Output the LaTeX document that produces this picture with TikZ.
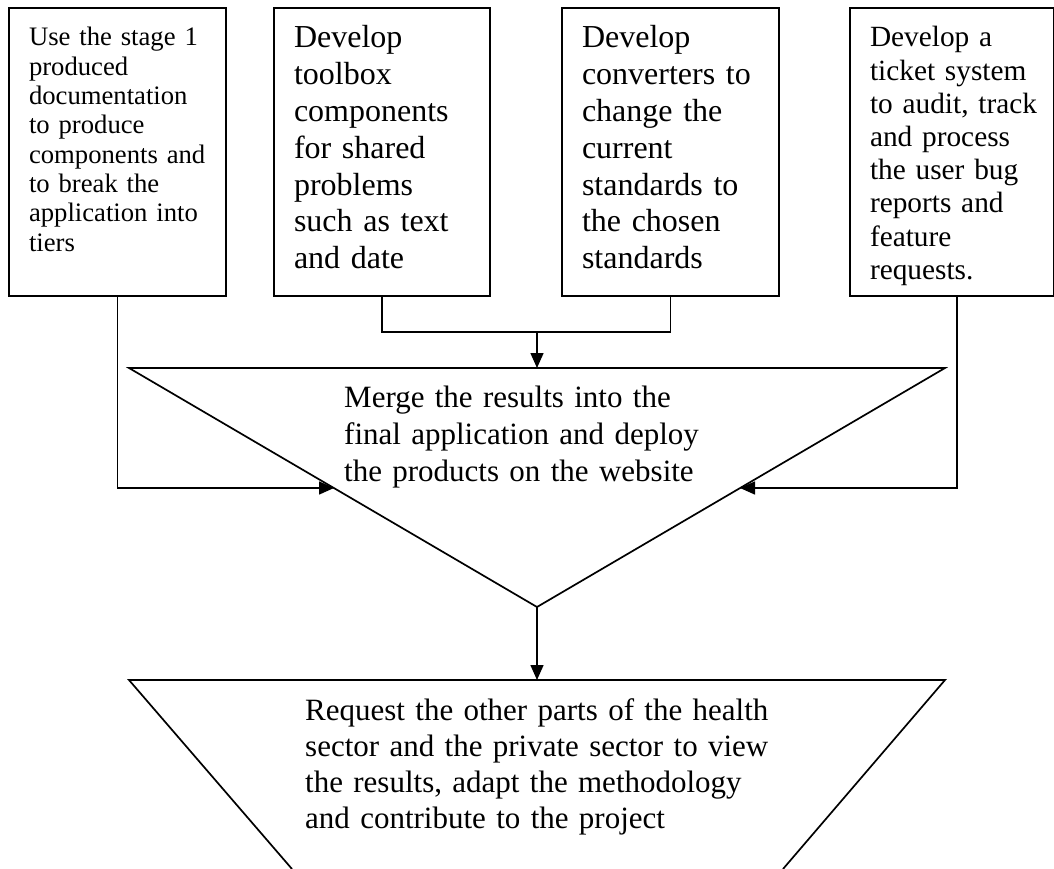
\documentclass[tikz,border=0pt]{standalone}
\usepackage{fontspec}
\setmainfont{Liberation Serif}
\usetikzlibrary{arrows.meta}
\begin{document}
\begin{tikzpicture}[x=1pt,y=-1pt,
  tbox/.style={draw, line width=2pt, rectangle, anchor=north west,
    inner xsep=20pt, inner ysep=0pt, align=left},
  ftwelve/.style={font=\fontsize{32}{36.8}\selectfont},
  feleven/.style={font=\fontsize{29.33}{33.2}\selectfont},
  ften/.style={font=\fontsize{26.67}{29.3}\selectfont},
  conn/.style={line width=1.5pt},
  arr/.style={conn, -{Triangle[length=15pt,width=13pt]}},
  outline/.style={line width=1.7pt, line join=miter},
  label/.style={anchor=base west, inner sep=0pt, align=left, text width=480pt}
]
\useasboundingbox (0,0) rectangle (1054,869);

% top boxes
\node[tbox, ften, text width=177pt, text height=38pt, text depth=250pt] (b1) at (8,7)
  {\mbox{Use the stage 1}\\produced\\documentation\\\mbox{to produce}\\\mbox{components and}\\\mbox{to break the}\\\mbox{application into}\\tiers};
\node[tbox, ftwelve, text width=176pt, text height=40pt, text depth=248pt] (b2) at (273,7)
  {Develop\\toolbox\\components\\\mbox{for shared}\\problems\\\mbox{such as text}\\\mbox{and date}};
\node[tbox, ftwelve, text width=177pt, text height=40pt, text depth=248pt] (b3) at (561,7)
  {Develop\\\mbox{converters to}\\\mbox{change the}\\current\\\mbox{standards to}\\\mbox{the chosen}\\standards};
\node[tbox, feleven, text width=164pt, text height=39pt, text depth=249pt] (b4) at (849,7)
  {\mbox{Develop a}\\\mbox{ticket system}\\\mbox{to audit, track}\\\mbox{and process}\\\mbox{the user bug}\\\mbox{reports and}\\feature\\requests.};

% merge triangle
\coordinate (ml) at (129,368);
\coordinate (mr) at (945,368);
\coordinate (mb) at (537,607);
\coordinate (mtop) at (537,368);
\draw[outline] (ml) -- (mr) -- (mb) -- cycle;
\node[label, font=\fontsize{31}{37}\selectfont] (mt) at (344,407)
  {Merge the results into the\\final application and deploy\\the products on the website};

% bottom trapezoid
\coordinate (ptl) at (129,680);
\coordinate (ptr) at (945,680);
\coordinate (pbl) at (292,869);
\coordinate (pbr) at (783,869);
\coordinate (ptop) at (537,680);
\draw[outline] (pbl) -- (ptl) -- (ptr) -- (pbr);
\node[label, font=\fontsize{31}{36}\selectfont] (pt) at (305,720)
  {Request the other parts of the health\\sector and the private sector to view\\the results, adapt the methodology\\and contribute to the project};

% connectors
\coordinate (tl) at (334,488);
\coordinate (tr) at (740,488);
\coordinate (jn) at (537,332);
\coordinate (b4o) at (957,295);

\draw[arr] (b1.south) |- (tl);
\draw[conn] (b2.south) |- (jn);
\draw[conn] (b3.south) |- (jn);
\draw[arr] (jn) -- (mtop);
\draw[arr] (b4o) |- (tr);
\draw[arr] (mb) -- (ptop);
\end{tikzpicture}
\end{document}
